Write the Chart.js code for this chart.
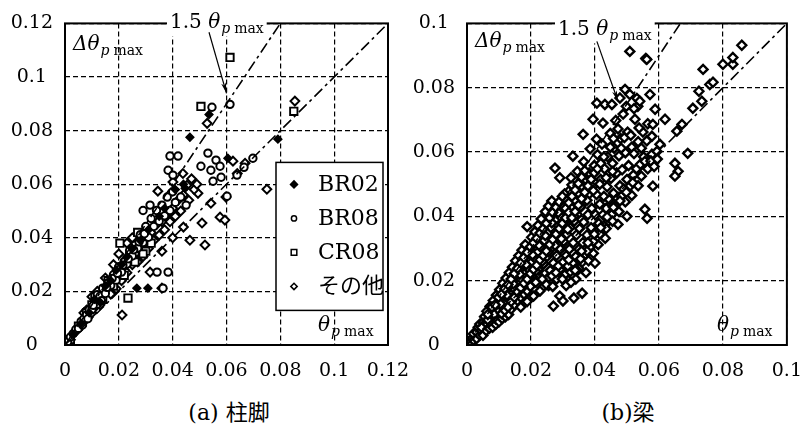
<!DOCTYPE html>
<html>
<head>
<meta charset="utf-8">
<script src="https://cdn.jsdelivr.net/npm/chart.js@4.4.0/dist/chart.umd.min.js"></script>
<style>
  body { margin: 0; background: #fff; width: 802px; height: 432px; position: relative; overflow: hidden; }
  .wrap { position: absolute; top: 0; height: 380px; }
  #wrapA { left: 0; width: 412px; }
  #wrapB { left: 400px; width: 402px; }
  .cap { position: absolute; top: 394px; font: 22px "DejaVu Serif", "Noto Sans CJK JP"; transform: translateX(-50%); white-space: nowrap; color: #000; }
</style>
</head>
<body>
<div class="wrap" id="wrapA"><canvas id="chartA"></canvas></div>
<div class="wrap" id="wrapB"><canvas id="chartB"></canvas></div>
<div class="cap" style="left:229px">(a) 柱脚</div>
<div class="cap" style="left:628px">(b)梁</div>
<script>
// axis ticks
const ticksA = [0, 0.02, 0.04, 0.06, 0.08, 0.1, 0.12];
const ticksB = [0, 0.02, 0.04, 0.06, 0.08, 0.1];

// reference lines: Δθ = θ and Δθ = 1.5θ
const lineA1 = [[0, 0], [0.12, 0.12]];
const lineA15 = [[0, 0], [0.08, 0.12]];
const lineB1 = [[0, 0], [0.1, 0.1]];
const lineB15 = [[0, 0], [0.0667, 0.1]];

// (a) column bases: [θp max, Δθp max]
const br02 = [
  [0.003, 0.004], [0.006, 0.008], [0.009, 0.012], [0.011, 0.017], [0.013, 0.016], [0.015, 0.022],
  [0.017, 0.024], [0.019, 0.028], [0.021, 0.030], [0.023, 0.033], [0.025, 0.036], [0.028, 0.039],
  [0.031, 0.043], [0.035, 0.048], [0.037, 0.051], [0.041, 0.058], [0.044, 0.060], [0.0446, 0.0585],
  [0.0464, 0.0775], [0.0535, 0.086], [0.0605, 0.0697], [0.0791, 0.0768], [0.0308, 0.0212], [0.0267, 0.0212]
];
const br08 = [
  [0.001, 0.0012], [0.002, 0.003], [0.003, 0.0042], [0.004, 0.0058], [0.005, 0.0062], [0.006, 0.0088],
  [0.007, 0.0098], [0.008, 0.0112], [0.009, 0.0132], [0.010, 0.0132], [0.011, 0.0162], [0.012, 0.0152],
  [0.012, 0.0188], [0.013, 0.0182], [0.014, 0.0212], [0.015, 0.0192], [0.016, 0.0232], [0.017, 0.0222],
  [0.018, 0.0262], [0.019, 0.0242], [0.020, 0.0292], [0.021, 0.0272], [0.022, 0.0312], [0.023, 0.0302],
  [0.024, 0.0352], [0.025, 0.0332], [0.026, 0.0372], [0.027, 0.0362], [0.028, 0.0412], [0.029, 0.0382],
  [0.030, 0.0442], [0.031, 0.0402], [0.032, 0.0472], [0.033, 0.0442], [0.034, 0.0502], [0.035, 0.0462],
  [0.036, 0.0522], [0.037, 0.0482], [0.038, 0.0552], [0.039, 0.0502], [0.040, 0.0572], [0.041, 0.0532],
  [0.043, 0.0552], [0.045, 0.0522], [0.029, 0.0502], [0.0316, 0.0522], [0.0342, 0.0272], [0.0383, 0.0272],
  [0.0364, 0.0212], [0.0546, 0.0887], [0.0613, 0.0898], [0.0561, 0.069], [0.0576, 0.0667], [0.0542, 0.0652],
  [0.058, 0.0626], [0.055, 0.0611], [0.0505, 0.0667], [0.0531, 0.0716], [0.0639, 0.0634], [0.0665, 0.0663],
  [0.0698, 0.0697], [0.0602, 0.0555], [0.039, 0.0705], [0.042, 0.0705], [0.0383, 0.0652], [0.0401, 0.0634],
  [0.0065, 0.0075], [0.0085, 0.0098], [0.0105, 0.0148], [0.0135, 0.0165], [0.0155, 0.0215], [0.0175, 0.0248],
  [0.0195, 0.0268], [0.0215, 0.0298], [0.0235, 0.0322], [0.0255, 0.0355], [0.0275, 0.0385], [0.0295, 0.0415]
];
const cr08 = [
  [0.0613, 0.1073], [0.0505, 0.089], [0.085, 0.0872], [0.002, 0.002], [0.005, 0.007], [0.008, 0.012],
  [0.010, 0.015], [0.012, 0.018], [0.014, 0.017], [0.016, 0.024], [0.018, 0.022], [0.020, 0.028],
  [0.022, 0.026], [0.024, 0.033], [0.026, 0.031], [0.030, 0.035], [0.032, 0.038], [0.027, 0.042],
  [0.029, 0.034], [0.0204, 0.038], [0.0234, 0.0175], [0.0111, 0.0179]
];
const otherA = [
  [0.0528, 0.0827], [0.0854, 0.091], [0.0624, 0.0686], [0.0669, 0.0678], [0.064, 0.064], [0.075, 0.0581],
  [0.0212, 0.0112], [0.0316, 0.0272], [0.052, 0.0373], [0.0464, 0.0391], [0.0509, 0.0455], [0.0576, 0.0477],
  [0.0594, 0.0466], [0.0598, 0.0552], [0.0542, 0.0529], [0.0494, 0.0566], [0.0453, 0.0596], [0.0438, 0.064],
  [0.0401, 0.0608], [0.0345, 0.0574], [0.036, 0.0212], [0.002, 0.002], [0.004, 0.005], [0.006, 0.007],
  [0.008, 0.010], [0.010, 0.012], [0.011, 0.014], [0.013, 0.015], [0.014, 0.019], [0.016, 0.020],
  [0.017, 0.019], [0.018, 0.024], [0.019, 0.021], [0.020, 0.026], [0.021, 0.024], [0.022, 0.028],
  [0.023, 0.027], [0.024, 0.031], [0.025, 0.030], [0.026, 0.034], [0.027, 0.031], [0.028, 0.036],
  [0.029, 0.033], [0.030, 0.038], [0.031, 0.036], [0.032, 0.042], [0.033, 0.039], [0.034, 0.045],
  [0.035, 0.041], [0.036, 0.046], [0.037, 0.043], [0.038, 0.049], [0.039, 0.046], [0.040, 0.051],
  [0.041, 0.048], [0.042, 0.054], [0.043, 0.050], [0.044, 0.056], [0.046, 0.054], [0.048, 0.058],
  [0.047, 0.062], [0.049, 0.060], [0.012, 0.020], [0.015, 0.025], [0.018, 0.030], [0.020, 0.034],
  [0.023, 0.038], [0.025, 0.040], [0.010, 0.018], [0.008, 0.013], [0.007, 0.012], [0.036, 0.035],
  [0.040, 0.040], [0.044, 0.044]
];

// (b) beams: [θp max, Δθp max]
const beam = [
  [0.001, 0.001], [0.0015, 0.002], [0.002, 0.0015], [0.002, 0.0035], [0.003, 0.002], [0.003, 0.004],
  [0.0035, 0.0055], [0.004, 0.003], [0.004, 0.0065], [0.0045, 0.0045], [0.005, 0.003], [0.005, 0.007],
  [0.0055, 0.0088], [0.006, 0.0045], [0.006, 0.0062], [0.0062, 0.0105], [0.007, 0.0052], [0.007, 0.0085],
  [0.0072, 0.012], [0.0075, 0.0068], [0.008, 0.0055], [0.008, 0.0092], [0.0082, 0.0138], [0.0085, 0.0112],
  [0.009, 0.0064], [0.009, 0.0081], [0.0092, 0.0155], [0.0095, 0.0128], [0.010, 0.0072], [0.010, 0.0105],
  [0.0102, 0.0172], [0.0105, 0.0145], [0.011, 0.0082], [0.011, 0.0118], [0.0112, 0.0192], [0.0115, 0.0162],
  [0.012, 0.0088], [0.012, 0.0128], [0.0122, 0.0208], [0.0125, 0.0178], [0.013, 0.0095], [0.013, 0.0142],
  [0.0132, 0.0225], [0.0135, 0.0195], [0.0138, 0.0112], [0.014, 0.0158], [0.0142, 0.0242], [0.0145, 0.0212],
  [0.0148, 0.0125], [0.015, 0.0172], [0.0152, 0.0262], [0.0155, 0.0228], [0.0158, 0.0138], [0.016, 0.0188],
  [0.0162, 0.0278], [0.0165, 0.0245], [0.0168, 0.0148], [0.017, 0.0205], [0.0172, 0.0295], [0.0175, 0.0262],
  [0.0178, 0.0158], [0.018, 0.0222], [0.0182, 0.0312], [0.0185, 0.0278], [0.0188, 0.0168], [0.019, 0.0238],
  [0.0188, 0.0368], [0.0195, 0.0298], [0.0198, 0.0182], [0.020, 0.0255], [0.0202, 0.0335], [0.0205, 0.0212],
  [0.021, 0.0272], [0.0212, 0.0352], [0.0215, 0.0195], [0.022, 0.0288], [0.0222, 0.0372], [0.0225, 0.0232],
  [0.023, 0.0305], [0.0232, 0.0392], [0.0235, 0.0178], [0.024, 0.0252], [0.0242, 0.0325], [0.0245, 0.0415],
  [0.025, 0.0205], [0.025, 0.0275], [0.0252, 0.0348], [0.0255, 0.0432], [0.026, 0.0232], [0.026, 0.0298],
  [0.0262, 0.0365], [0.0265, 0.0448], [0.027, 0.0121], [0.027, 0.0255], [0.0272, 0.0318], [0.0275, 0.0388],
  [0.0275, 0.055], [0.028, 0.0205], [0.028, 0.0278], [0.0282, 0.0342], [0.0285, 0.0412], [0.029, 0.0152],
  [0.029, 0.0235], [0.029, 0.052], [0.0292, 0.0298], [0.0295, 0.0362], [0.0298, 0.0432], [0.030, 0.0137],
  [0.030, 0.0258], [0.0302, 0.0322], [0.0305, 0.0385], [0.0308, 0.0455], [0.031, 0.0185], [0.031, 0.0278],
  [0.0312, 0.0345], [0.0315, 0.0405], [0.0318, 0.0478], [0.032, 0.0225], [0.032, 0.0298], [0.0322, 0.0365],
  [0.0325, 0.0428], [0.0328, 0.0498], [0.0331, 0.0587], [0.0334, 0.0146], [0.033, 0.0255], [0.0332, 0.0318],
  [0.0335, 0.0385], [0.0338, 0.0448], [0.034, 0.0205], [0.034, 0.0275], [0.0342, 0.0342], [0.0345, 0.0405],
  [0.0348, 0.0472], [0.035, 0.0238], [0.035, 0.0298], [0.0352, 0.0362], [0.0355, 0.0428], [0.0358, 0.0495],
  [0.036, 0.0161], [0.036, 0.0258], [0.0362, 0.0318], [0.0363, 0.0655], [0.0365, 0.0382], [0.0368, 0.0448],
  [0.037, 0.0515], [0.037, 0.0282], [0.0372, 0.0225], [0.0375, 0.0342], [0.0378, 0.0405], [0.038, 0.0468],
  [0.038, 0.0262], [0.0382, 0.0535], [0.0385, 0.0305], [0.0388, 0.0365], [0.039, 0.0425], [0.0392, 0.0492],
  [0.0394, 0.0702], [0.0395, 0.0285], [0.0398, 0.0558], [0.040, 0.0255], [0.040, 0.0345], [0.0402, 0.0405],
  [0.0405, 0.0468], [0.0406, 0.0752], [0.0408, 0.0592], [0.041, 0.0312], [0.0412, 0.0378], [0.0415, 0.0438],
  [0.0418, 0.0515], [0.042, 0.0355], [0.0422, 0.0625], [0.0425, 0.069], [0.0425, 0.0405], [0.0428, 0.0462],
  [0.043, 0.0548], [0.0431, 0.0748], [0.0432, 0.0332], [0.0435, 0.0425], [0.0438, 0.0492], [0.044, 0.0585],
  [0.0442, 0.0385], [0.0445, 0.0452], [0.0448, 0.0658], [0.0453, 0.0748], [0.045, 0.0518], [0.0452, 0.0405],
  [0.0455, 0.0565], [0.0458, 0.0472], [0.046, 0.0612], [0.0462, 0.0432], [0.0465, 0.0698], [0.0468, 0.0535],
  [0.0472, 0.0375], [0.047, 0.0455], [0.0475, 0.0588], [0.0478, 0.0495], [0.048, 0.0642], [0.0482, 0.0462],
  [0.0485, 0.0545], [0.0488, 0.0718], [0.049, 0.0485], [0.0494, 0.0795], [0.0495, 0.0598], [0.050, 0.040],
  [0.050, 0.0515], [0.0502, 0.0662], [0.0505, 0.0558], [0.0509, 0.0779], [0.0509, 0.0913], [0.051, 0.0495],
  [0.0515, 0.0615], [0.052, 0.0528], [0.0525, 0.0702], [0.053, 0.0548], [0.0531, 0.0767], [0.0534, 0.0742],
  [0.054, 0.0758], [0.0535, 0.0632], [0.0542, 0.0562], [0.055, 0.0662], [0.0552, 0.0585], [0.0556, 0.0422],
  [0.0556, 0.0571], [0.0559, 0.0891], [0.0562, 0.0888], [0.0563, 0.0394], [0.0565, 0.0688], [0.0572, 0.0779],
  [0.0578, 0.0593], [0.0578, 0.0649], [0.0581, 0.0686], [0.0581, 0.0494], [0.0588, 0.0733], [0.0594, 0.0602],
  [0.0603, 0.0624], [0.0619, 0.0702], [0.065, 0.0565], [0.066, 0.054], [0.065, 0.0525], [0.0656, 0.0665],
  [0.0672, 0.0686], [0.069, 0.0596], [0.0706, 0.0736], [0.0734, 0.0758], [0.0725, 0.0789], [0.0759, 0.081],
  [0.0769, 0.0817], [0.0738, 0.0857], [0.08, 0.0873], [0.0831, 0.0873], [0.0831, 0.0894], [0.0859, 0.0932],
  [0.0145, 0.019], [0.0165, 0.022], [0.0185, 0.025], [0.0205, 0.028], [0.0225, 0.031], [0.0245, 0.034],
  [0.0265, 0.038], [0.0285, 0.044], [0.0305, 0.047], [0.0325, 0.052], [0.0345, 0.054], [0.0365, 0.057],
  [0.0385, 0.061], [0.0405, 0.064], [0.0155, 0.016], [0.0175, 0.018], [0.0195, 0.021], [0.0215, 0.023],
  [0.0235, 0.026], [0.0255, 0.029], [0.0275, 0.031], [0.0295, 0.033], [0.0315, 0.036], [0.0335, 0.040],
  [0.0355, 0.043], [0.0375, 0.045], [0.0395, 0.048], [0.0415, 0.050], [0.0435, 0.052], [0.0455, 0.054],
  [0.0125, 0.0155], [0.0105, 0.0128], [0.0085, 0.0095], [0.0065, 0.0078], [0.0045, 0.0055], [0.0235, 0.0205],
  [0.0255, 0.0185], [0.0265, 0.0215], [0.0285, 0.0245], [0.0305, 0.0218], [0.0315, 0.0245], [0.0325, 0.0195],
  [0.0345, 0.0232], [0.0355, 0.0268], [0.0375, 0.0292], [0.0395, 0.0322], [0.0415, 0.0345], [0.0435, 0.0362],
  [0.0455, 0.0385], [0.0475, 0.0415], [0.0495, 0.0445], [0.0515, 0.0465], [0.0535, 0.0495], [0.0545, 0.0525],
  [0.0565, 0.0548], [0.0575, 0.0572], [0.0585, 0.0555], [0.0595, 0.0578],
  [0.0065, 0.0095], [0.0078, 0.0118], [0.0088, 0.0125], [0.0098, 0.0148], [0.0108, 0.0158], [0.0118, 0.0175],
  [0.0128, 0.0188], [0.0138, 0.0205], [0.0148, 0.0222], [0.0158, 0.0238], [0.0168, 0.0255], [0.0178, 0.0272],
  [0.0188, 0.0288], [0.0198, 0.0305], [0.0208, 0.0318], [0.0218, 0.0332], [0.0228, 0.0348], [0.0238, 0.0362],
  [0.0248, 0.0378], [0.0258, 0.0395], [0.0268, 0.0412], [0.0278, 0.0428], [0.0288, 0.0445], [0.0298, 0.0462],
  [0.0308, 0.0425], [0.0318, 0.0442], [0.0328, 0.0462], [0.0338, 0.0482], [0.0348, 0.0502], [0.0358, 0.0522],
  [0.0368, 0.0542], [0.0108, 0.0098], [0.0118, 0.0108], [0.0128, 0.0118], [0.0138, 0.0135], [0.0148, 0.0148],
  [0.0158, 0.0165], [0.0168, 0.0178], [0.0178, 0.0192], [0.0188, 0.0205], [0.0198, 0.0222], [0.0208, 0.0235],
  [0.0218, 0.0248], [0.0228, 0.0265], [0.0238, 0.0278], [0.0248, 0.0292], [0.0258, 0.0312], [0.0268, 0.0328],
  [0.0278, 0.0345], [0.0288, 0.0362], [0.0298, 0.0378], [0.0308, 0.0395], [0.0318, 0.0412], [0.0328, 0.0395],
  [0.0338, 0.0415], [0.0348, 0.0435], [0.0358, 0.0455], [0.0368, 0.0475], [0.0378, 0.0495], [0.0388, 0.0515],
  [0.0398, 0.0535], [0.0408, 0.0548], [0.0418, 0.0565], [0.0428, 0.0585], [0.0168, 0.0118], [0.0188, 0.0135],
  [0.0208, 0.0152], [0.0228, 0.0168], [0.0248, 0.0188], [0.0268, 0.0182], [0.0278, 0.0225], [0.0298, 0.0205],
  [0.0318, 0.0265], [0.0338, 0.0232], [0.0358, 0.0292], [0.0378, 0.0318], [0.0398, 0.0345], [0.0418, 0.0365],
  [0.0438, 0.0398], [0.0458, 0.0428], [0.0478, 0.0448], [0.0498, 0.0475], [0.0518, 0.0505], [0.0448, 0.0615],
  [0.0458, 0.0642], [0.0472, 0.0672], [0.0482, 0.0612], [0.0492, 0.0645], [0.0512, 0.0652], [0.0522, 0.0595],
  [0.0545, 0.0612], [0.0562, 0.0635], [0.0538, 0.0675], [0.0522, 0.0735], [0.0498, 0.0742], [0.0478, 0.0768]
];

const legendItems = ['BR02', 'BR08', 'CR08', 'その他'];

const serif = '"DejaVu Serif", "Noto Sans CJK JP"';
const pts = arr => arr.map(([x, y]) => ({ x, y }));

function refLine(arr) {
  return {
    type: 'line', data: pts(arr), borderColor: '#000', borderWidth: 1.6,
    borderDash: [11, 4, 3, 4], pointRadius: 0, fill: false
  };
}

function marks(arr, style, r, fillColor, bw) {
  return {
    type: 'scatter', data: pts(arr), pointStyle: style, radius: r,
    backgroundColor: fillColor, borderColor: '#000', borderWidth: bw
  };
}

// small marker shapes for the legend box
function shape(ctx, style, x, y, r, filled) {
  ctx.beginPath();
  if (style === 'circle') ctx.arc(x, y, r, 0, Math.PI * 2);
  else if (style === 'rect') ctx.rect(x - r, y - r, 2 * r, 2 * r);
  else { ctx.moveTo(x, y - r); ctx.lineTo(x + r, y); ctx.lineTo(x, y + r); ctx.lineTo(x - r, y); ctx.closePath(); }
  ctx.fillStyle = filled ? '#000' : '#fff';
  ctx.fill();
  ctx.lineWidth = 1.5;
  ctx.strokeStyle = '#000';
  ctx.stroke();
}

// writes [lead] θ_p max (or Δθ_p max), returns end x
function thetaLabel(ctx, x, base, lead, delta) {
  ctx.textAlign = 'left';
  ctx.textBaseline = 'alphabetic';
  ctx.fillStyle = '#000';
  if (lead) {
    ctx.font = '20px ' + serif;
    ctx.fillText(lead, x, base);
    x += ctx.measureText(lead).width;
  }
  const main = delta ? 'Δθ' : 'θ';
  ctx.font = 'italic 20px "DejaVu Serif"';
  ctx.fillText(main, x, base);
  x += ctx.measureText(main).width + 1;
  ctx.font = 'italic 14px "DejaVu Serif"';
  ctx.fillText('p', x, base + 5);
  x += ctx.measureText('p').width + 4;
  ctx.font = '14px "DejaVu Serif"';
  ctx.fillText('max', x, base + 5);
  return x + ctx.measureText('max').width;
}

const decor = {
  id: 'decor',
  afterDatasetsDraw(chart, args, o) {
    const { ctx, chartArea: a, scales: { x, y } } = chart;
    ctx.save();
    ctx.setLineDash([]);
    ctx.lineWidth = 2;
    ctx.strokeStyle = '#000';
    ctx.strokeRect(a.left, a.top, a.right - a.left, a.bottom - a.top);

    if (o.legend) {
      const L = a.left + 211, T = a.top + 139, R = a.right - 5, B = a.top + 287;
      ctx.fillStyle = '#fff';
      ctx.fillRect(L, T, R - L, B - T);
      ctx.lineWidth = 1.5;
      ctx.strokeRect(L, T, R - L, B - T);
      const styles = [['rectRot', 3.5, true], ['circle', 2.6, false], ['rect', 2.8, false], ['rectRot', 3.2, false]];
      legendItems.forEach((name, i) => {
        const cy = T + 22 + i * 34;
        const [st, r, f] = styles[i];
        shape(ctx, st, L + 18, cy, r, f);
        ctx.fillStyle = '#000';
        ctx.font = '22px ' + serif;
        ctx.textAlign = 'left';
        ctx.textBaseline = 'middle';
        ctx.fillText(name, L + 42, cy + 1);
      });
    }

    thetaLabel(ctx, a.left + 8, a.top + o.dBase, '', true);
    thetaLabel(ctx, a.right - 70, a.bottom - 14, '', false);

    // "1.5 θp max" sits on the top frame with a white backing
    const lx = a.left + o.kx, lb = a.top + o.kb;
    ctx.globalAlpha = 0;
    const end = thetaLabel(ctx, lx, lb, '1.5 ', false);
    ctx.globalAlpha = 1;
    ctx.fillStyle = '#fff';
    ctx.fillRect(lx - 3, lb - 18, end - lx + 6, 26);
    thetaLabel(ctx, lx, lb, '1.5 ', false);

    // arrow to the 1.5 line
    const x0 = x.getPixelForValue(o.tail[0]), y0 = y.getPixelForValue(o.tail[1]);
    const x1 = x.getPixelForValue(o.tip[0]), y1 = y.getPixelForValue(o.tip[1]);
    const ang = Math.atan2(y1 - y0, x1 - x0);
    ctx.strokeStyle = '#000';
    ctx.lineWidth = 1.2;
    ctx.beginPath();
    ctx.moveTo(x0, y0);
    ctx.lineTo(x1, y1);
    ctx.stroke();
    ctx.beginPath();
    ctx.moveTo(x1, y1);
    ctx.lineTo(x1 - 11 * Math.cos(ang - 0.22), y1 - 11 * Math.sin(ang - 0.22));
    ctx.lineTo(x1 - 8 * Math.cos(ang), y1 - 8 * Math.sin(ang));
    ctx.lineTo(x1 - 11 * Math.cos(ang + 0.22), y1 - 11 * Math.sin(ang + 0.22));
    ctx.closePath();
    ctx.fillStyle = '#000';
    ctx.fill();
    ctx.restore();
  }
};

function axis(ticks, max, isY, w) {
  return {
    type: 'linear', min: 0, max: max,
    afterBuildTicks: s => { s.ticks = ticks.map(v => ({ value: v })); },
    afterFit: s => { if (isY) s.width = w; else s.height = w; },
    ticks: {
      color: '#000',
      // x labels are pushed down by line height so the tick padding does not eat into the plot width
      font: { family: '"DejaVu Serif"', size: 19, lineHeight: isY ? 1.2 : 2.7 },
      padding: isY ? 12 : 0, crossAlign: isY ? 'center' : 'near',
      maxRotation: 0, autoSkip: false, callback: v => String(v)
    },
    grid: { color: '#000', lineWidth: 1.2, drawTicks: false },
    border: { display: false, dash: [5, 3] }
  };
}

function makeChart(id, datasets, ticks, max, yw, pad, deco) {
  return new Chart(document.getElementById(id), {
    data: { datasets },
    options: {
      responsive: true, maintainAspectRatio: false, animation: false, events: [],
      layout: { padding: pad },
      scales: { x: axis(ticks, max, false, 35), y: axis(ticks, max, true, yw) },
      plugins: { legend: { display: false }, tooltip: { enabled: false }, decor: deco }
    },
    plugins: [decor]
  });
}

makeChart('chartA', [
  refLine(lineA1), refLine(lineA15),
  marks(br02, 'rectRot', 3.8, '#000', 1.6),
  marks(br08, 'circle', 3.7, '#fff', 2),
  marks(cr08, 'rect', 5.2, '#fff', 1.9),
  marks(otherA, 'rectRot', 4.4, '#fff', 2)
], ticksA, 0.12, 65, { top: 23, right: 24, left: 0, bottom: 0 },
  { legend: true, dBase: 27, kx: 105, kb: 5, tail: [0.0535, 0.1167], tip: [0.06, 0.0939] });

makeChart('chartB', [
  refLine(lineB1), refLine(lineB15),
  marks(beam, 'rectRot', 4.5, '#fff', 2.4)
], ticksB, 0.1, 67, { top: 22, right: 15, left: 0, bottom: 0 },
  { legend: false, dBase: 24, kx: 91, kb: 12, tail: [0.0406, 0.0944], tip: [0.0472, 0.0758] });
</script>
</body>
</html>
